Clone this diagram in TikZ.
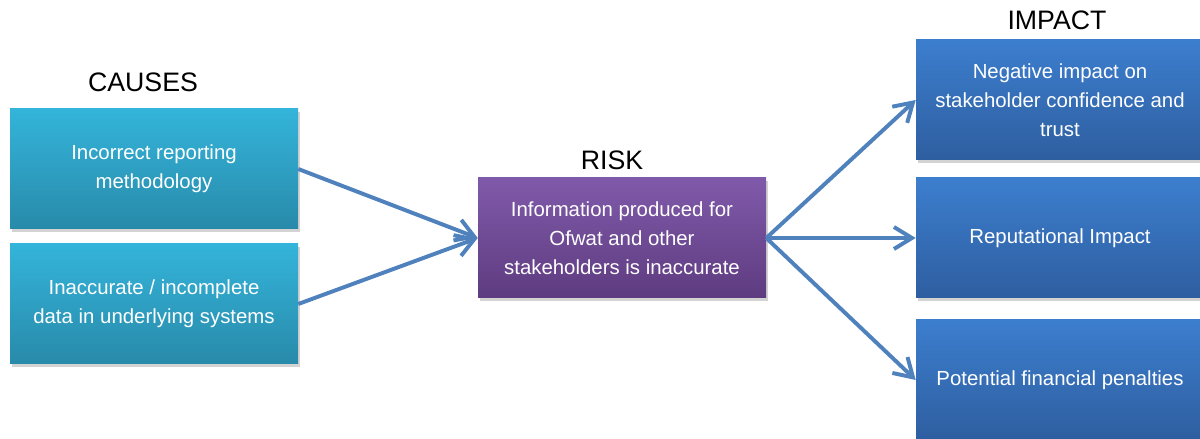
\documentclass[tikz,border=0pt]{standalone}
\usepackage{fontspec}
\setmainfont{Liberation Sans}
\usetikzlibrary{arrows.meta,shadows,positioning}
\definecolor{causeTop}{RGB}{52,180,218}
\definecolor{causeBot}{RGB}{40,138,170}
\definecolor{riskTop}{RGB}{128,90,170}
\definecolor{riskBot}{RGB}{94,60,128}
\definecolor{impactTop}{RGB}{60,126,206}
\definecolor{impactBot}{RGB}{46,94,160}
\definecolor{arrowColor}{RGB}{79,129,189}
\tikzset{>={Straight Barb[length=4.5mm,width=5.5mm]}}
\tikzset{
  box/.style={minimum width=7.2cm,minimum height=3cm,inner sep=0pt,
    text=white,align=center,font=\fontsize{14.5}{20.5}\selectfont,
    drop shadow={opacity=0.35,shadow xshift=0.04cm,shadow yshift=-0.07cm}},
  causebox/.style={box,top color=causeTop,bottom color=causeBot},
  riskbox/.style={box,top color=riskTop,bottom color=riskBot},
  impactbox/.style={box,top color=impactTop,bottom color=impactBot},
  heading/.style={font=\fontsize{19}{22}\selectfont},
  flow/.style={->,arrowColor,line width=2.8pt}
}

\begin{document}
\begin{tikzpicture}
    \useasboundingbox (0,0) rectangle (30,10.975);

    \node[heading] (causes) at (3.575,8.925) {CAUSES};
    \node[heading] (risklabel) at (15.3,6.975) {RISK};
    \node[heading] (impact) at (26.425,10.475) {IMPACT};

    \node[causebox] (c1) at (3.85,6.75) {Incorrect reporting\\methodology};
    \node[causebox] (c2) at (3.85,3.375) {Inaccurate / incomplete\\data in underlying systems};

    \node[riskbox] (risk) at (15.55,5.025) {Information produced for\\Ofwat and other\\stakeholders is inaccurate};

    \node[impactbox] (i1) at (26.5,8.475) {Negative impact on\\stakeholder confidence and\\trust};
    \node[impactbox] (i2) at (26.5,5.025) {Reputational Impact};
    \node[impactbox] (i3) at (26.5,1.475) {Potential financial penalties};

    \draw[flow] (c1.east) -- (risk.west);
    \draw[flow] (c2.east) -- (risk.west);
    \draw[flow] (risk.east) -- (i1.west);
    \draw[flow] (risk.east) -- (i2.west);
    \draw[flow] (risk.east) -- (i3.west);

  \end{tikzpicture}
\end{document}
